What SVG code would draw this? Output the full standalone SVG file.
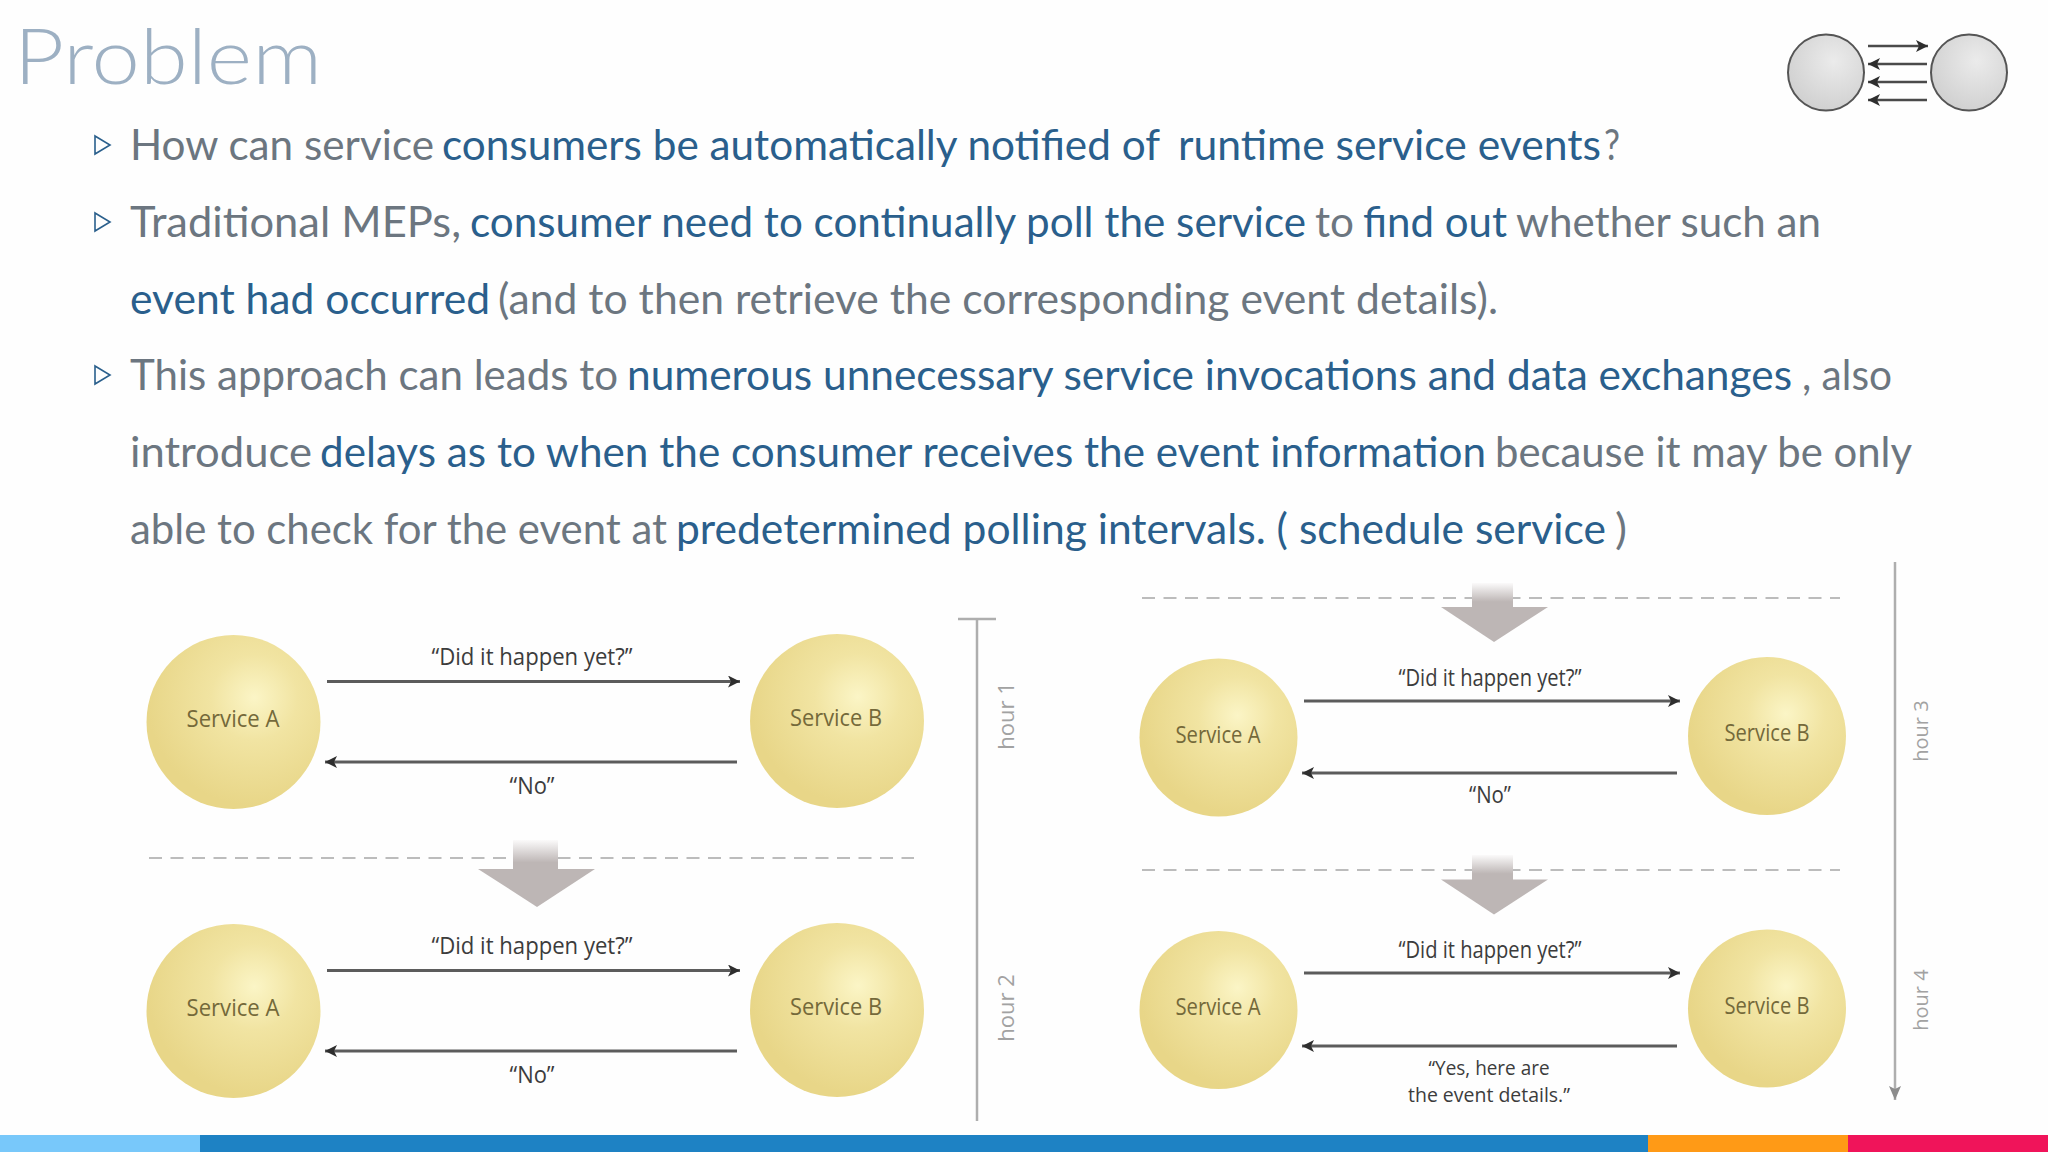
<svg xmlns="http://www.w3.org/2000/svg" width="2048" height="1152" viewBox="0 0 2048 1152">
<style>
.body{font-family:"Lato","Liberation Sans",sans-serif;font-size:42.5px;fill:#6c7680;white-space:pre}
.hl{fill:#2a5f8c}
.svc{font-family:"Open Sans","Noto Sans",sans-serif;font-size:23px;fill:#74693a;text-anchor:middle}
.msg{font-family:"Open Sans","Noto Sans",sans-serif;font-size:23px;fill:#3c3c3c;text-anchor:middle}
.msg2{font-family:"Open Sans","Noto Sans",sans-serif;font-size:19.500px;fill:#3c3c3c;text-anchor:middle}
.hour{font-family:"Open Sans","Noto Sans",sans-serif;font-size:22px;fill:#a2a2a2;text-anchor:middle}
.hour2{font-family:"Open Sans","Noto Sans",sans-serif;font-size:20px;fill:#a2a2a2;text-anchor:middle}
.dash{stroke:#bcbcbc;stroke-width:2;stroke-dasharray:13 8.500;fill:none}
.conn{stroke:#5c5c5c;stroke-width:3;fill:none}
.time{stroke:#aeaeae;stroke-width:2.500;fill:none}
.bullet{fill:none;stroke:#2a5f8c;stroke-width:1.600}
.icon{stroke:#4a4a4a;stroke-width:2.500;fill:none}
.head{fill:#bdb6b5}
</style>
<defs>
<radialGradient id="gold" cx="0.62" cy="0.36" r="0.62"><stop offset="0" stop-color="#fbf5c6"/><stop offset="0.4" stop-color="#f1e4a2"/><stop offset="1" stop-color="#e8d688"/></radialGradient>
<radialGradient id="grey" cx="0.6" cy="0.35" r="0.7"><stop offset="0" stop-color="#ebebeb"/><stop offset="1" stop-color="#cfcfcf"/></radialGradient>
<linearGradient id="shaft" x1="0" y1="0" x2="0" y2="1"><stop offset="0" stop-color="#fbfafa"/><stop offset="0.75" stop-color="#bdb6b5"/><stop offset="1" stop-color="#bdb6b5"/></linearGradient>
<marker id="ah" markerUnits="userSpaceOnUse" markerWidth="14" markerHeight="14" refX="12" refY="6" orient="auto"><path d="M0 0L12 6L0 12L3 6Z" fill="#2e2e2e"/></marker>
<marker id="ahg" markerUnits="userSpaceOnUse" markerWidth="14" markerHeight="18" refX="14" refY="6" orient="auto"><path d="M0 0L14 6L0 12L3 6Z" fill="#8c8c8c"/></marker>
</defs>
<rect width="2048" height="1152" fill="#fefefe"/>
<g id="title"><text x="14" y="84" font-family="Lato,'Liberation Sans',sans-serif" font-weight="300" font-size="76" fill="#9db0c3" textLength="308" lengthAdjust="spacingAndGlyphs">Problem</text></g>
<g id="bullets">
<path class="bullet" d="M95 136L110 145L95 154Z"/>
<path class="bullet" d="M95 213L110 222L95 231Z"/>
<path class="bullet" d="M95 366L110 375L95 384Z"/>
</g>
<g id="body">
<text class="body" x="130" y="160" textLength="304" lengthAdjust="spacingAndGlyphs">How can service</text>
<text class="body hl" x="442" y="160" textLength="718" lengthAdjust="spacingAndGlyphs">consumers be automatically notified of</text>
<text class="body hl" x="1178" y="160" textLength="423" lengthAdjust="spacingAndGlyphs">runtime service events</text>
<text class="body" x="1604" y="160" textLength="16" lengthAdjust="spacingAndGlyphs">?</text>
<text class="body" x="130" y="237" textLength="331" lengthAdjust="spacingAndGlyphs">Traditional MEPs,</text>
<text class="body hl" x="470" y="237" textLength="836" lengthAdjust="spacingAndGlyphs">consumer need to continually poll the service</text>
<text class="body" x="1315" y="237" textLength="39" lengthAdjust="spacingAndGlyphs">to</text>
<text class="body hl" x="1363" y="237" textLength="144" lengthAdjust="spacingAndGlyphs">find out</text>
<text class="body" x="1516" y="237" textLength="305" lengthAdjust="spacingAndGlyphs">whether such an</text>
<text class="body hl" x="130" y="314" textLength="360" lengthAdjust="spacingAndGlyphs">event had occurred</text>
<text class="body" x="498" y="314" textLength="1000" lengthAdjust="spacingAndGlyphs">(and to then retrieve the corresponding event details).</text>
<text class="body" x="130" y="390.200" textLength="488" lengthAdjust="spacingAndGlyphs">This approach can leads to</text>
<text class="body hl" x="627" y="390.200" textLength="1165" lengthAdjust="spacingAndGlyphs">numerous unnecessary service invocations and data exchanges</text>
<text class="body" x="1802" y="390.200" textLength="90" lengthAdjust="spacingAndGlyphs">, also</text>
<text class="body" x="130" y="467.200" textLength="182" lengthAdjust="spacingAndGlyphs">introduce</text>
<text class="body hl" x="320" y="467.200" textLength="1166" lengthAdjust="spacingAndGlyphs">delays as to when the consumer receives the event information</text>
<text class="body" x="1495" y="467.200" textLength="417" lengthAdjust="spacingAndGlyphs">because it may be only</text>
<text class="body" x="130" y="544.200" textLength="537" lengthAdjust="spacingAndGlyphs">able to check for the event at</text>
<text class="body hl" x="676" y="544.200" textLength="930" lengthAdjust="spacingAndGlyphs">predetermined polling intervals. ( schedule service</text>
<text class="body" x="1615" y="544.200" textLength="12" lengthAdjust="spacingAndGlyphs">)</text>
</g>
<g id="icon">
<circle cx="1826" cy="72.500" r="38" fill="url(#grey)" stroke="#555" stroke-width="2"/>
<circle cx="1969" cy="72.500" r="38" fill="url(#grey)" stroke="#555" stroke-width="2"/>
<path class="icon" d="M1868 46H1928" marker-end="url(#ah)"/>
<path class="icon" d="M1927 64H1868" marker-end="url(#ah)"/>
<path class="icon" d="M1927 82H1868" marker-end="url(#ah)"/>
<path class="icon" d="M1927 100H1868" marker-end="url(#ah)"/>
</g>
<g id="connectors">
<path class="conn" d="M327 681.500H740" marker-end="url(#ah)"/>
<path class="conn" d="M737 762H325" marker-end="url(#ah)"/>
<path class="conn" d="M327 970.500H740" marker-end="url(#ah)"/>
<path class="conn" d="M737 1051H325" marker-end="url(#ah)"/>
<path class="conn" d="M1304 701H1680" marker-end="url(#ah)"/>
<path class="conn" d="M1677 773H1302" marker-end="url(#ah)"/>
<path class="conn" d="M1304 973H1680" marker-end="url(#ah)"/>
<path class="conn" d="M1677 1046H1302" marker-end="url(#ah)"/>
<path class="time" d="M977 619V1121M958 619H996"/>
<path class="time" d="M1895 562V1100" marker-end="url(#ahg)"/>
</g>
<g id="separators">
<path class="dash" d="M149 858H914"/>
<path class="dash" d="M1142 598H1840"/>
<path class="dash" d="M1142 870H1840"/>
<g id="step-arrow-1"><rect x="513" y="840" width="45" height="30" fill="url(#shaft)"/><path class="head" d="M478 869H595L537 907Z"/></g>
<g id="step-arrow-2"><rect x="1472" y="583" width="41" height="25" fill="url(#shaft)"/><path class="head" d="M1441 607H1548L1494 642Z"/></g>
<g id="step-arrow-3"><rect x="1472" y="855" width="41" height="25" fill="url(#shaft)"/><path class="head" d="M1441 879.500H1548L1494 914.500Z"/></g>
</g>
<g id="a1"><circle cx="233.500" cy="722" r="87" fill="url(#gold)"/><text class="svc" x="233" y="727" textLength="93" lengthAdjust="spacingAndGlyphs">Service A</text></g>
<g id="b1"><circle cx="837" cy="721" r="87" fill="url(#gold)"/><text class="svc" x="836" y="726" textLength="92" lengthAdjust="spacingAndGlyphs">Service B</text></g>
<g id="a2"><circle cx="233.500" cy="1011" r="87" fill="url(#gold)"/><text class="svc" x="233" y="1016" textLength="93" lengthAdjust="spacingAndGlyphs">Service A</text></g>
<g id="b2"><circle cx="837" cy="1010" r="87" fill="url(#gold)"/><text class="svc" x="836" y="1015" textLength="92" lengthAdjust="spacingAndGlyphs">Service B</text></g>
<g id="a3"><circle cx="1218.500" cy="737.500" r="79" fill="url(#gold)"/><text class="svc" x="1218" y="743" textLength="85" lengthAdjust="spacingAndGlyphs">Service A</text></g>
<g id="b3"><circle cx="1767" cy="736" r="79" fill="url(#gold)"/><text class="svc" x="1767" y="741" textLength="85" lengthAdjust="spacingAndGlyphs">Service B</text></g>
<g id="a4"><circle cx="1218.500" cy="1010" r="79" fill="url(#gold)"/><text class="svc" x="1218" y="1015" textLength="85" lengthAdjust="spacingAndGlyphs">Service A</text></g>
<g id="b4"><circle cx="1767" cy="1008.500" r="79" fill="url(#gold)"/><text class="svc" x="1767" y="1013.500" textLength="85" lengthAdjust="spacingAndGlyphs">Service B</text></g>
<g id="labels">
<text class="msg" x="532" y="665" textLength="201" lengthAdjust="spacingAndGlyphs">“Did it happen yet?”</text>
<text class="msg" x="532" y="794" textLength="45" lengthAdjust="spacingAndGlyphs">“No”</text>
<text class="msg" x="532" y="954" textLength="201" lengthAdjust="spacingAndGlyphs">“Did it happen yet?”</text>
<text class="msg" x="532" y="1083" textLength="45" lengthAdjust="spacingAndGlyphs">“No”</text>
<text class="msg" x="1490" y="686" textLength="183" lengthAdjust="spacingAndGlyphs">“Did it happen yet?”</text>
<text class="msg" x="1490" y="803" textLength="42" lengthAdjust="spacingAndGlyphs">“No”</text>
<text class="msg" x="1490" y="958" textLength="183" lengthAdjust="spacingAndGlyphs">“Did it happen yet?”</text>
<text class="msg2" x="1489" y="1075" textLength="121" lengthAdjust="spacingAndGlyphs">“Yes, here are</text>
<text class="msg2" x="1489" y="1102" textLength="162" lengthAdjust="spacingAndGlyphs">the event details.”</text>
<text class="hour" transform="translate(1014 716) rotate(-90)">hour 1</text>
<text class="hour" transform="translate(1014 1008) rotate(-90)">hour 2</text>
<text class="hour2" transform="translate(1928 731) rotate(-90)">hour 3</text>
<text class="hour2" transform="translate(1928 1000) rotate(-90)">hour 4</text>
</g>
<g id="footer">
<rect x="0" y="1135" width="200" height="17" fill="#78c8fa"/>
<rect x="200" y="1135" width="1448" height="17" fill="#1e82c4"/>
<rect x="1648" y="1135" width="200" height="17" fill="#ff9a16"/>
<rect x="1848" y="1135" width="200" height="17" fill="#f0145a"/>
</g>
</svg>
